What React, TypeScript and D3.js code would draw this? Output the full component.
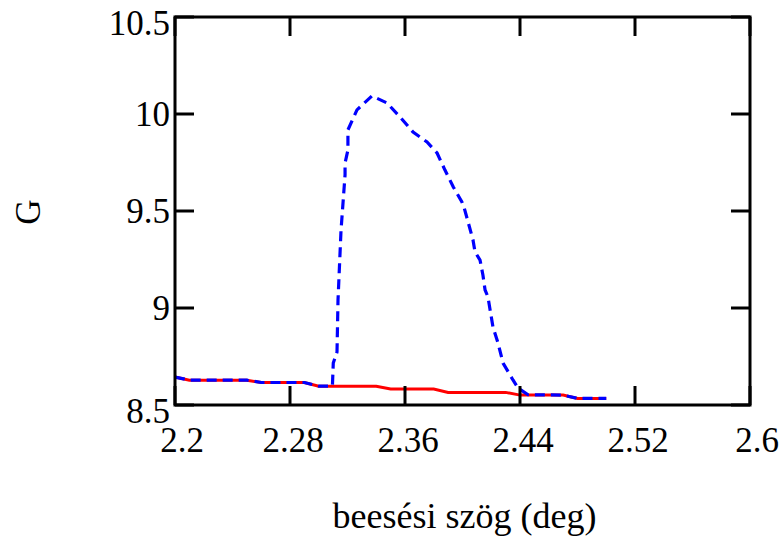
import React from "react";
import * as d3 from "d3";

// red curve: sampled on a 0.01 deg grid
const redAngle = [2.2, 2.21, 2.22, 2.23, 2.24, 2.25, 2.26, 2.27, 2.28, 2.29, 2.3, 2.31, 2.32, 2.33, 2.34, 2.35, 2.36, 2.37, 2.38, 2.39, 2.4, 2.41, 2.42, 2.43, 2.44, 2.45, 2.46, 2.47, 2.48, 2.49, 2.5];
const redG = [8.644, 8.628, 8.628, 8.628, 8.628, 8.628, 8.616, 8.616, 8.616, 8.616, 8.597, 8.597, 8.597, 8.597, 8.597, 8.582, 8.582, 8.582, 8.582, 8.565, 8.565, 8.565, 8.565, 8.565, 8.551, 8.551, 8.551, 8.551, 8.534, 8.534, 8.534];

// blue dashed curve
const blueAngle = [2.2, 2.21, 2.25, 2.26, 2.29, 2.3, 2.3095, 2.3101, 2.3127, 2.3134, 2.3155, 2.3183, 2.3183, 2.3203, 2.3203, 2.3266, 2.337, 2.3475, 2.3565, 2.3656, 2.3753, 2.3823, 2.3878, 2.3936, 2.3996, 2.401, 2.4073, 2.4087, 2.4122, 2.4142, 2.4157, 2.4177, 2.4212, 2.4247, 2.4282, 2.4351, 2.4386, 2.4456, 2.47, 2.48, 2.5];
const blueG = [8.644, 8.628, 8.628, 8.616, 8.616, 8.597, 8.597, 8.716, 8.773, 9.041, 9.402, 9.686, 9.747, 9.814, 9.918, 10.021, 10.093, 10.057, 9.985, 9.907, 9.856, 9.799, 9.711, 9.624, 9.546, 9.521, 9.351, 9.289, 9.247, 9.17, 9.093, 9.057, 8.902, 8.82, 8.716, 8.629, 8.588, 8.553, 8.551, 8.534, 8.534];

const xTicks = [2.2, 2.28, 2.36, 2.44, 2.52, 2.6];
const xTickLabels = ["2.2", "2.28", "2.36", "2.44", "2.52", "2.6"];
const yTicks = [8.5, 9, 9.5, 10, 10.5];
const yTickLabels = ["8.5", "9", "9.5", "10", "10.5"];

const W = 784, H = 540;
const left = 175, right = 750, top = 17, bottom = 405;
const fontStyle = { fontFamily: "Liberation Serif, DejaVu Serif, serif" };

export default function App() {
  const x = d3.scaleLinear().domain([2.2, 2.6]).range([left, right]);
  const y = d3.scaleLinear().domain([8.5, 10.5]).range([bottom, top]);
  const line = d3.line<[number, number]>().x(d => x(d[0])).y(d => y(d[1]));
  const redPts = redAngle.map((a, i) => [a, redG[i]] as [number, number]);
  const bluePts = blueAngle.map((a, i) => [a, blueG[i]] as [number, number]);
  const tickLen = 19;

  return (
    <svg width={W} height={H} style={{ position: "absolute", left: 0, top: 0, background: "#fff" }}>
      <path d={line(redPts) || ""} fill="none" stroke="#ff0000" strokeWidth={3} />
      <path d={line(bluePts) || ""} fill="none" stroke="#0000ff" strokeWidth={3.2} strokeDasharray="10,6" />

      {xTicks.map((t, i) => (
        <g key={"xt" + i}>
          <line x1={x(t)} x2={x(t)} y1={bottom} y2={bottom - tickLen} stroke="#000" strokeWidth={3} />
          <line x1={x(t)} x2={x(t)} y1={top} y2={top + tickLen} stroke="#000" strokeWidth={3} />
          <text x={x(t) + (i === 0 || i === xTicks.length - 1 ? 7 : 3)} y={452} textAnchor="middle" style={fontStyle} fontSize={35}>
            {xTickLabels[i]}
          </text>
        </g>
      ))}
      {yTicks.map((t, i) => (
        <g key={"yt" + i}>
          <line x1={left} x2={left + tickLen} y1={y(t)} y2={y(t)} stroke="#000" strokeWidth={3} />
          <line x1={right} x2={right - tickLen} y1={y(t)} y2={y(t)} stroke="#000" strokeWidth={3} />
          <text x={170} y={y(t) + (i === 0 || i === yTicks.length - 1 ? 18 : 12)} textAnchor="end" style={fontStyle} fontSize={35}>
            {yTickLabels[i]}
          </text>
        </g>
      ))}

      <rect x={left} y={top} width={right - left} height={bottom - top} fill="none" stroke="#000" strokeWidth={3} />

      <text transform="translate(40,212) rotate(-90)" textAnchor="middle" style={fontStyle} fontSize={35}>G</text>
      <text x={464.5} y={528} textAnchor="middle" style={fontStyle} fontSize={36}>beesési szög (deg)</text>
    </svg>
  );
}
